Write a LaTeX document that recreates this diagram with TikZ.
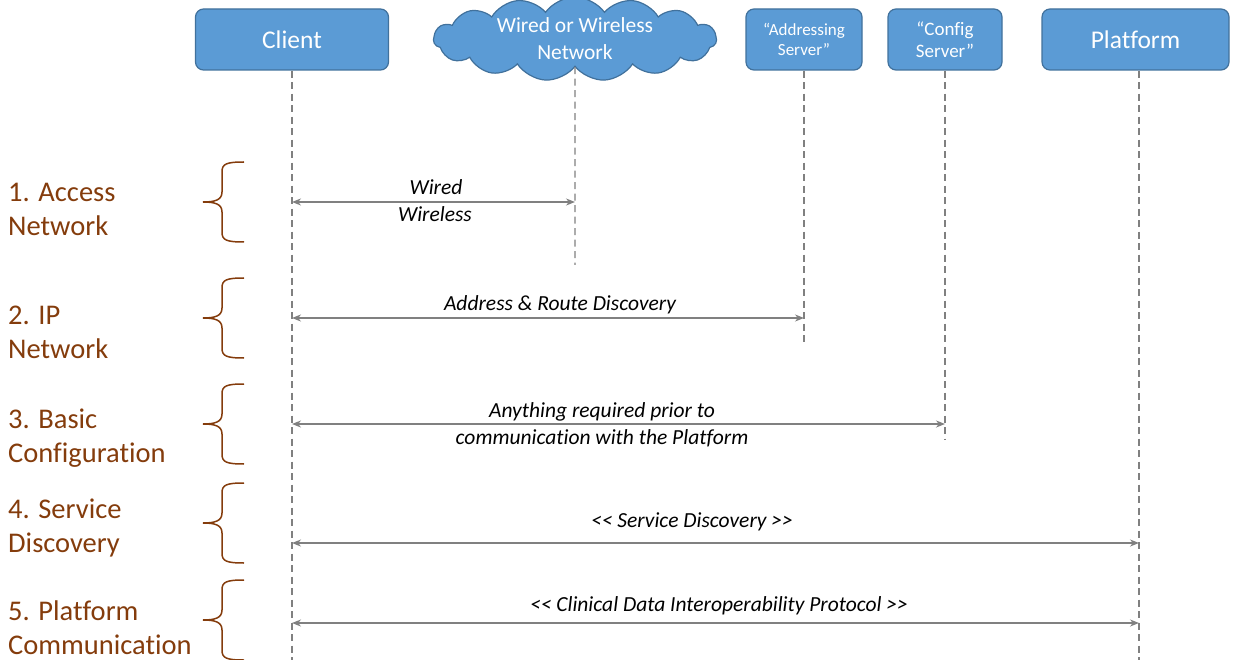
\documentclass[tikz,border=0pt]{standalone}
\usepackage{fontspec}
\setmainfont{Carlito}[Ligatures={TeXOff,NoCommon}]
\usetikzlibrary{shapes.symbols,arrows.meta}
\definecolor{boxfill}{HTML}{5B9BD5}
\definecolor{boxline}{HTML}{41719C}
\definecolor{phase}{HTML}{843C0C}
\definecolor{lifegray}{HTML}{808080}
\begin{document}
\begin{tikzpicture}[x=1pt,y=-1pt,
 actor/.style={draw=boxline, fill=boxfill, line width=1.2pt, rounded corners=8pt, text=white, align=center, inner sep=0pt, minimum height=61pt},
 life/.style={draw=lifegray, line width=1.3pt, dash pattern=on 7pt off 4.5pt},
 msg/.style={draw=lifegray, line width=1.6pt, {Stealth[length=9pt,width=7pt]}-{Stealth[length=9pt,width=7pt]}},
 msglabel/.style={font=\fontsize{21.5}{27}\selectfont\itshape, align=center, inner sep=0pt},
 phaselabel/.style={font=\fontsize{28.5}{34}\selectfont, text=phase, align=left, anchor=west, inner sep=0pt},
 bracestyle/.style={draw=phase, line width=1.5pt},
 bracepic/.pic={\draw[bracestyle] (41,-40) .. controls (23,-40) and (19,-38) .. (19,-30) -- (19,-10) .. controls (19,-2) and (12,0) .. (0,0) .. controls (12,0) and (19,2) .. (19,10) -- (19,30) .. controls (19,38) and (23,40) .. (41,40);}
]
\useasboundingbox (0,0) rectangle (1234,660);

% actors
\node[actor, minimum width=193pt, font=\fontsize{25.5}{28}\selectfont] (client) at (292,39.5) {Client};
\node[cloud, cloud puffs=15, cloud puff arc=110, aspect=4, draw=boxline, fill=boxfill, line width=1.2pt,
      minimum width=283pt, minimum height=70pt, text=white, align=center, inner sep=0pt,
      font=\fontsize{21.5}{27}\selectfont] (net) at (575,39) {Wired or Wireless\\Network};
\node[actor, minimum width=116pt, font=\fontsize{17}{20}\selectfont] (addr) at (804,39.5) {“Addressing\\Server”};
\node[actor, minimum width=114pt, font=\fontsize{19}{22}\selectfont] (cfg) at (945,39.5) {“Config\\Server”};
\node[actor, minimum width=187pt, font=\fontsize{25.5}{28}\selectfont] (plat) at (1135.5,39.5) {Platform};

% lifeline ends
\coordinate (clientend) at (292,660);
\coordinate (netend) at (575,265);
\coordinate (addrend) at (804,343);
\coordinate (cfgend) at (945,440);
\coordinate (platend) at (1139,660);

\draw[life] (client.south) -- (clientend);
\draw[life] (net.south) -- (netend);
\draw[life] (addr.south) -- (addrend);
\draw[life] (cfg.south) -- (cfgend);
\draw[life] (plat.south -| platend) -- (platend);

% message endpoints
\coordinate (m1a) at (292,202); \coordinate (m1b) at (575,202);
\coordinate (m2a) at (292,318); \coordinate (m2b) at (804,318);
\coordinate (m3a) at (292,424); \coordinate (m3b) at (945,424);
\coordinate (m4a) at (292,543); \coordinate (m4b) at (1139,543);
\coordinate (m5a) at (292,623); \coordinate (m5b) at (1139,623);

\draw[msg] (m1a) -- (m1b);
\draw[msg] (m2a) -- (m2b);
\draw[msg] (m3a) -- (m3b);
\draw[msg] (m4a) -- (m4b);
\draw[msg] (m5a) -- (m5b);

\node[msglabel] (l1a) at (436,187) {Wired};
\node[msglabel] (l1b) at (435,214) {Wireless};
\node[msglabel] (l2) at (560,305) {Address \& Route Discovery};
\node[msglabel] (l3) at (602,424.5) {Anything required prior to\\communication with the Platform};
\node[msglabel] (l4) at (692,522) {<< Service Discovery >>};
\node[msglabel] (l5) at (719,606) {<< Clinical Data Interoperability Protocol >>};

% phases
\node[phaselabel] (p1) at (8,209) {1. Access\\Network};
\node[phaselabel] (p2) at (8,332) {2. IP\\Network};
\node[phaselabel] (p3) at (8,438) {3. Basic\\Configuration};
\node[phaselabel] (p4) at (8,527.5) {4. Service\\Discovery};
\node[phaselabel] (p5) at (8,628) {5. Platform\\Communication};

\pic at (203,202) {bracepic};
\pic at (203,318) {bracepic};
\pic at (203,424) {bracepic};
\pic at (203,523) {bracepic};
\pic at (203,620) {bracepic};
\end{tikzpicture}
\end{document}
